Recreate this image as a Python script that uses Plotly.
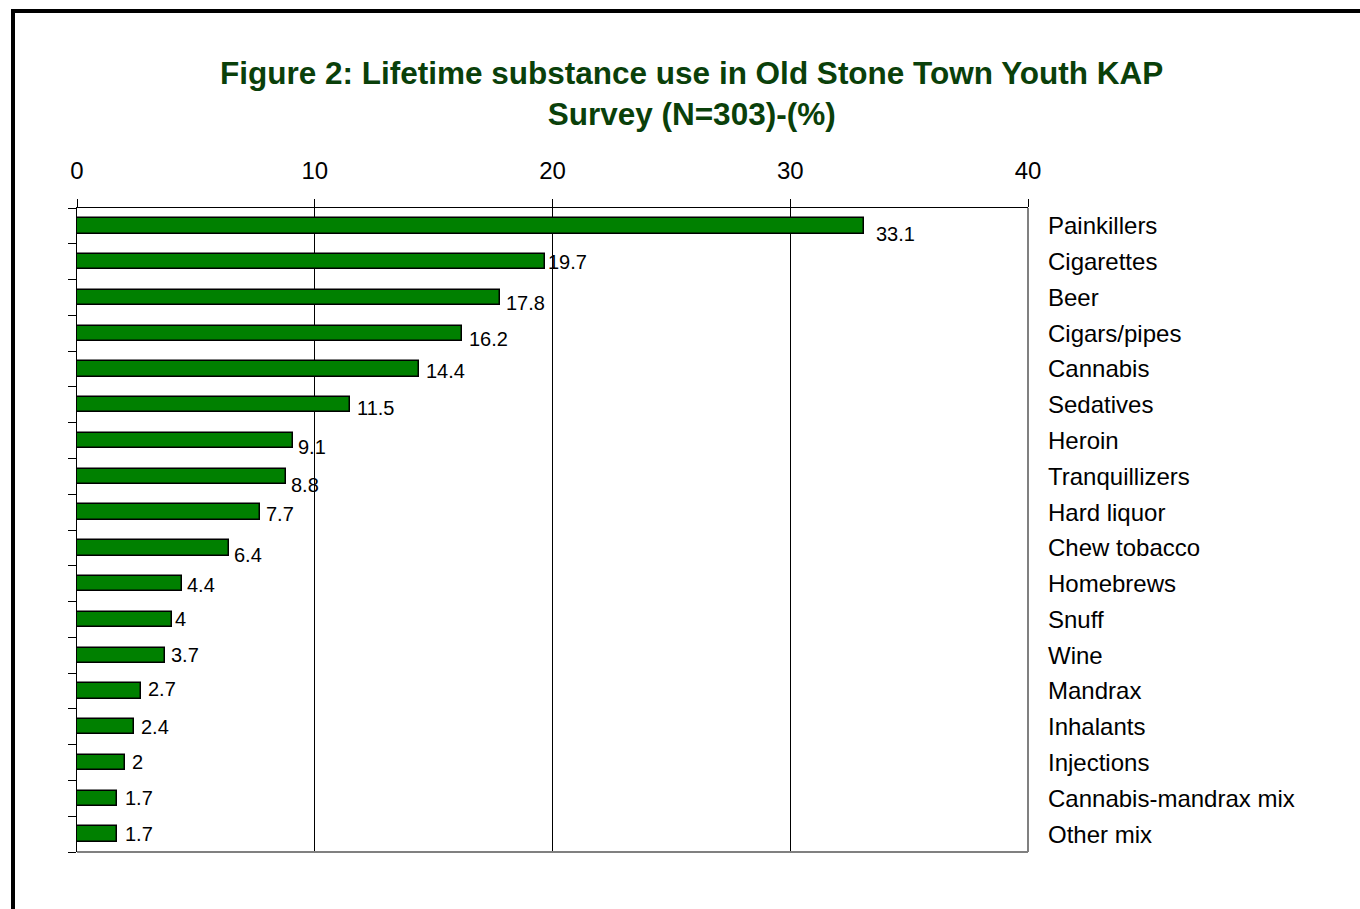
import plotly.graph_objects as go

# Lifetime substance use, percent of respondents
categories = [
    "Painkillers", "Cigarettes", "Beer", "Cigars/pipes", "Cannabis",
    "Sedatives", "Heroin", "Tranquillizers", "Hard liquor", "Chew tobacco",
    "Homebrews", "Snuff", "Wine", "Mandrax", "Inhalants", "Injections",
    "Cannabis-mandrax mix", "Other mix",
]
values = [33.1, 19.7, 17.8, 16.2, 14.4, 11.5, 9.1, 8.8, 7.7, 6.4,
          4.4, 4.0, 3.7, 2.7, 2.4, 2.0, 1.7, 1.7]
value_text = ["33.1", "19.7", "17.8", "16.2", "14.4", "11.5", "9.1", "8.8",
              "7.7", "6.4", "4.4", "4", "3.7", "2.7", "2.4", "2", "1.7", "1.7"]
x_ticks = [0, 10, 20, 30, 40]

# hand-placed label nudges (pixels right / pixels down)
label_dx = [12, 3, 6, 7, 7, 7, 5, 5, 6, 5, 5, 3, 6, 7, 7, 7, 8, 8]
label_dy = [8, 0, 6, 6, 2, 3, 6, 9, 2, 7, 1, 0, 0, -2, 0, -1, 0, 0]

TITLE = ("Figure 2: Lifetime substance use in Old Stone Town Youth KAP<br>"
         "Survey (N=303)-(%)")

FONT = "Liberation Sans, Arial, sans-serif"
TITLE_GREEN = "#0a400a"
BAR_GREEN = "#008000"
GREY = "#808080"

W, H = 1360, 909
M_L, M_R, M_T, M_B = 77, 332, 208, 57
PW, PH = W - M_L - M_R, H - M_T - M_B


def px_to_paper(px, py):
    """Page pixel position -> paper coordinates of the plot area."""
    return (px - M_L) / PW, (H - M_B - py) / PH


n = len(categories)
pos = list(range(n))
y_range = [n - 0.5, -0.5]

fig = go.Figure()
fig.add_trace(go.Bar(
    x=values, y=pos, orientation="h", width=0.43,
    marker=dict(color=BAR_GREEN, line=dict(color="black", width=1.5)),
    hoverinfo="skip", showlegend=False,
))

# invisible trace so the left tick axis is drawn
fig.add_trace(go.Scatter(x=[0], y=[0], yaxis="y2", mode="markers",
                         marker=dict(opacity=0), hoverinfo="skip",
                         showlegend=False))

annotations = []
for v, t, p, dx, dy in zip(values, value_text, pos, label_dx, label_dy):
    annotations.append(dict(
        x=v, y=p, xref="x", yref="y", text=t, showarrow=False,
        xanchor="left", yanchor="middle", xshift=dx - 2, yshift=-dy,
        font=dict(family=FONT, size=20, color="black"),
    ))

tx, ty = px_to_paper(691, 94)
annotations.append(dict(
    x=tx, y=ty, xref="paper", yref="paper",
    text="<b>" + TITLE + "</b>", showarrow=False,
    xanchor="center", yanchor="middle", align="center",
    font=dict(family=FONT, size=31.5, color=TITLE_GREEN),
))

fx0, fy1 = px_to_paper(13, 11)

fig.update_layout(
    width=W, height=H,
    margin=dict(l=M_L, r=M_R, t=M_T, b=M_B),
    paper_bgcolor="white", plot_bgcolor="white",
    bargap=0,
    annotations=annotations,
    xaxis=dict(
        side="top", range=[0, 40], tickvals=x_ticks,
        ticks="outside", ticklen=8, tickcolor="black", tickwidth=1,
        showline=True, linecolor="black", linewidth=1,
        showgrid=True, gridcolor="black", gridwidth=1, zeroline=False,
        tickfont=dict(family=FONT, size=24, color="black"),
        ticklabelstandoff=10,
    ),
    yaxis=dict(
        side="right", range=y_range, tickvals=pos, ticktext=categories,
        ticks="", showline=False, showgrid=False, zeroline=False,
        tickfont=dict(family=FONT, size=24, color="black"),
        ticklabelstandoff=19,
    ),
    yaxis2=dict(
        overlaying="y", side="left", range=y_range,
        tickvals=[p - 0.5 for p in range(n + 1)],
        ticks="outside", ticklen=8, tickcolor="black", tickwidth=1,
        showticklabels=False, showline=True, linecolor="black",
        linewidth=1, showgrid=False, zeroline=False,
    ),
    shapes=[
        # grey right and bottom edges of the plot area
        dict(type="line", xref="paper", yref="paper", x0=1, x1=1, y0=0, y1=1,
             line=dict(color=GREY, width=2), layer="above"),
        dict(type="line", xref="paper", yref="paper", x0=0, x1=1, y0=0, y1=0,
             line=dict(color=GREY, width=2), layer="above"),
        # outer chart frame
        dict(type="rect", xref="paper", yref="paper",
             x0=fx0, x1=1.5, y0=-0.5, y1=fy1,
             line=dict(color="black", width=4), layer="above"),
    ],
)

fig.write_html("out.html")
